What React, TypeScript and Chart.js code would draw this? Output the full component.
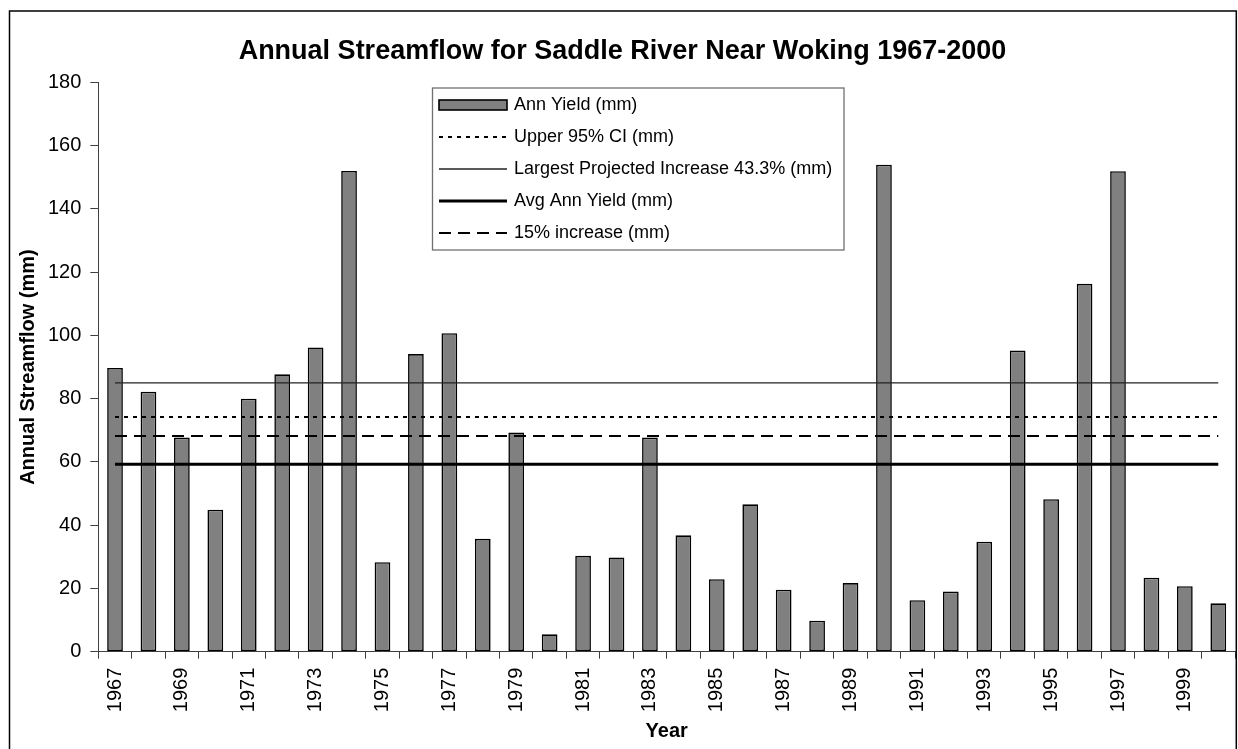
import React, { useEffect, useRef } from 'react';
import { Chart, registerables } from 'chart.js';

Chart.register(...registerables);

const years = [
  '1967', '1968', '1969', '1970', '1971', '1972', '1973', '1974', '1975', '1976',
  '1977', '1978', '1979', '1980', '1981', '1982', '1983', '1984', '1985', '1986',
  '1987', '1988', '1989', '1990', '1991', '1992', '1993', '1994', '1995', '1996',
  '1997', '1998', '1999', '2000',
];

const annYield = [
  89.7, 82.2, 67.7, 44.9, 80.0, 87.7, 96.2, 152.0, 28.3, 94.1,
  100.7, 35.7, 69.3, 5.5, 30.3, 29.8, 67.7, 36.8, 22.9, 46.6,
  19.6, 9.8, 21.7, 154.0, 16.3, 19.0, 34.8, 95.2, 48.2, 116.3,
  151.9, 23.4, 20.7, 15.3,
];

const upperCI = 74.2;
const largestIncrease = 85.0;
const avgYield = 59.3;
const increase15 = 68.2;

const yMin = 0;
const yMax = 180;
const yStep = 20;

const seriesLabels = [
  'Ann Yield (mm)',
  'Upper 95% CI (mm)',
  'Largest Projected Increase 43.3% (mm)',
  'Avg Ann Yield (mm)',
  '15% increase (mm)',
];

const FONT = '"Liberation Sans", Arial, Helvetica, sans-serif';

const flatLine = (v: number) => [
  { x: years[0], y: v },
  { x: years[years.length - 1], y: v },
];

const framePlugin = {
  id: 'frame',
  beforeDraw(chart: any) {
    const ctx = chart.ctx;
    ctx.save();
    ctx.fillStyle = '#ffffff';
    ctx.fillRect(0, 0, chart.width, chart.height);
    ctx.restore();
  },
  afterDraw(chart: any) {
    const ctx = chart.ctx;
    ctx.save();
    ctx.strokeStyle = '#000000';
    ctx.lineWidth = 1.5;
    ctx.strokeRect(9.5, 11, 1226.8, chart.height + 20);
    ctx.restore();
  },
};

const boxLegendPlugin = {
  id: 'boxLegend',
  afterDatasetsDraw(chart: any) {
    const ctx = chart.ctx;
    const left = 432.5;
    const top = 88;
    const right = 844;
    const bottom = 250;
    const sampleL = 439;
    const sampleR = 507;
    const textX = 514;
    const firstY = 105;
    const gap = 32;
    ctx.save();
    ctx.fillStyle = '#ffffff';
    ctx.fillRect(left, top, right - left, bottom - top);
    ctx.strokeStyle = '#707070';
    ctx.lineWidth = 1.3;
    ctx.strokeRect(left, top, right - left, bottom - top);
    chart.data.datasets.forEach((ds: any, i: number) => {
      const y = firstY + i * gap;
      if (ds.type === 'bar') {
        ctx.fillStyle = ds.backgroundColor;
        ctx.strokeStyle = ds.borderColor;
        ctx.lineWidth = ds.borderWidth;
        ctx.setLineDash([]);
        ctx.fillRect(sampleL, y - 5, sampleR - sampleL, 10);
        ctx.strokeRect(sampleL, y - 5, sampleR - sampleL, 10);
      } else {
        ctx.strokeStyle = ds.borderColor;
        ctx.lineWidth = ds.borderWidth;
        ctx.setLineDash(ds.borderDash || []);
        ctx.beginPath();
        ctx.moveTo(sampleL, y);
        ctx.lineTo(sampleR, y);
        ctx.stroke();
      }
      ctx.setLineDash([]);
      ctx.fillStyle = '#000000';
      ctx.font = `18px ${FONT}`;
      ctx.textBaseline = 'middle';
      ctx.textAlign = 'left';
      ctx.fillText(ds.label, textX, y);
    });
    ctx.restore();
  },
};

export default function App() {
  const canvasRef = useRef<HTMLCanvasElement | null>(null);

  useEffect(() => {
    if (!canvasRef.current) return;
    Chart.defaults.color = '#000000';
    Chart.defaults.font.family = FONT;
    const lineStyle = {
      type: 'line' as const,
      pointRadius: 0,
      pointHoverRadius: 0,
      fill: false,
      tension: 0,
      order: 1,
      borderColor: '#000000',
      backgroundColor: '#000000',
    };
    const chart = new Chart(canvasRef.current, {
      type: 'bar',
      data: {
        labels: years,
        datasets: [
          {
            type: 'bar',
            label: seriesLabels[0],
            data: annYield,
            backgroundColor: '#808080',
            borderColor: '#000000',
            borderWidth: 1.6,
            borderSkipped: false,
            categoryPercentage: 1,
            barPercentage: 0.47,
            order: 2,
          } as any,
          { ...lineStyle, label: seriesLabels[1], data: flatLine(upperCI) as any, borderWidth: 2, borderDash: [4, 5] },
          { ...lineStyle, label: seriesLabels[2], data: flatLine(largestIncrease) as any, borderWidth: 1.3, borderColor: '#222222' },
          { ...lineStyle, label: seriesLabels[3], data: flatLine(avgYield) as any, borderWidth: 3 },
          { ...lineStyle, label: seriesLabels[4], data: flatLine(increase15) as any, borderWidth: 2, borderDash: [12, 7] },
        ] as any,
      },
      options: {
        responsive: false,
        animation: false,
        devicePixelRatio: 1,
        layout: { padding: { left: 10, right: 3, top: 0, bottom: 0 } },
        plugins: {
          legend: { display: false },
          tooltip: { enabled: false },
          title: {
            display: true,
            text: 'Annual Streamflow for Saddle River Near Woking 1967-2000',
            color: '#000000',
            font: { size: 27, weight: 'bold', family: FONT, lineHeight: 1.2 },
            padding: { top: 35, bottom: 15 },
          },
        },
        scales: {
          x: {
            type: 'category',
            offset: true,
            grid: {
              offset: true,
              drawOnChartArea: false,
              drawTicks: true,
              tickLength: 7,
              color: '#404040',
              lineWidth: 1,
            },
            border: { display: true, color: '#404040', width: 1 },
            ticks: {
              autoSkip: false,
              minRotation: 90,
              maxRotation: 90,
              padding: 9,
              color: '#000000',
              font: { size: 20, family: FONT },
              callback: (_v: any, idx: number) => (idx % 2 === 0 ? years[idx] : ''),
            },
            title: {
              display: true,
              text: 'Year',
              color: '#000000',
              font: { size: 20, weight: 'bold', family: FONT, lineHeight: 1.2 },
              padding: { top: 0, bottom: 6 },
            },
            afterFit: (scale: any) => {
              scale.height = 97.3;
              scale.paddingLeft = 0;
              scale.paddingRight = 0;
            },
          },
          y: {
            min: yMin,
            max: yMax,
            grid: {
              drawOnChartArea: false,
              drawTicks: true,
              tickLength: 8,
              color: '#404040',
              lineWidth: 1,
            },
            border: { display: true, color: '#404040', width: 1 },
            ticks: {
              stepSize: yStep,
              padding: 9,
              color: '#000000',
              font: { size: 20, family: FONT },
            },
            title: {
              display: true,
              text: 'Annual Streamflow (mm)',
              color: '#000000',
              font: { size: 20, weight: 'bold', family: FONT, lineHeight: 1.2 },
              padding: { top: 6, bottom: 0 },
            },
            afterFit: (scale: any) => {
              scale.width = 88.3;
            },
          },
        },
      } as any,
      plugins: [framePlugin, boxLegendPlugin],
    });
    return () => chart.destroy();
  }, []);

  return (
    <div style={{ position: 'absolute', left: 0, top: 0, width: 1238, height: 749, overflow: 'hidden' }}>
      <canvas ref={canvasRef} width={1238} height={749} style={{ display: 'block', width: 1238, height: 749 }} />
    </div>
  );
}
